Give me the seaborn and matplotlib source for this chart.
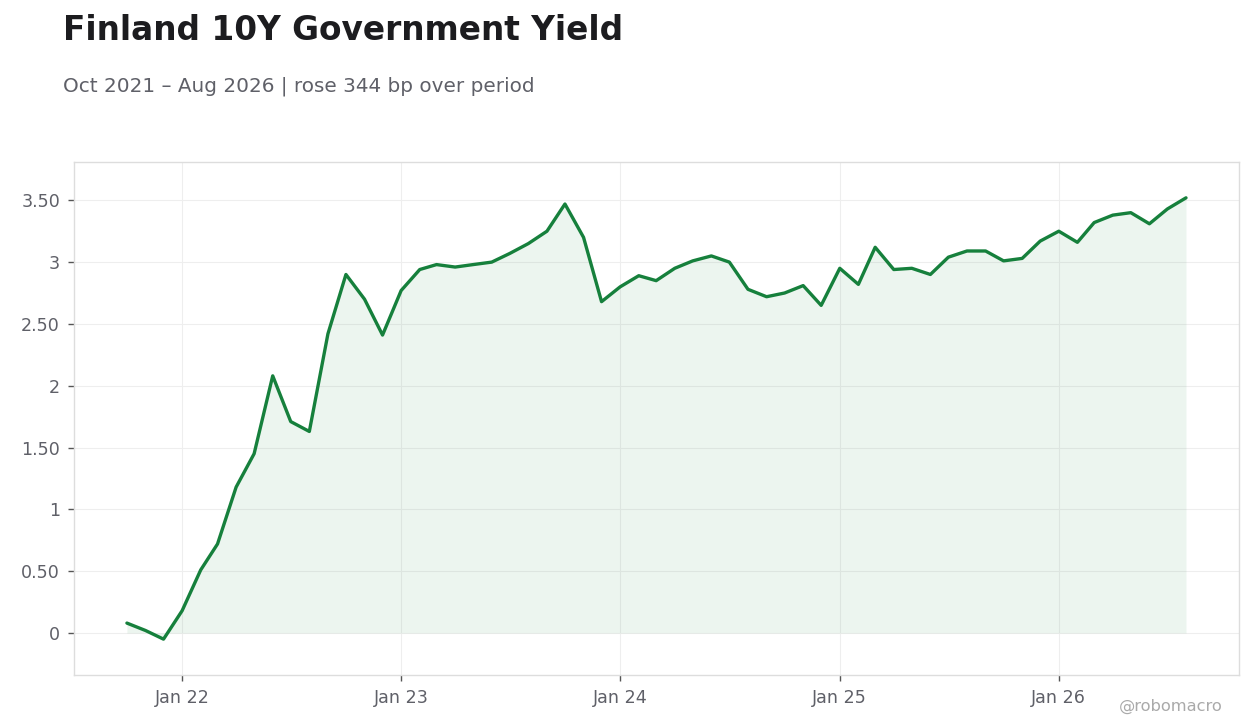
import matplotlib
matplotlib.use("Agg")
import matplotlib.pyplot as plt
import matplotlib.dates as mdates
from matplotlib.ticker import FuncFormatter, MultipleLocator
import pandas as pd
import seaborn as sns

# monthly Finland 10Y yield, Oct 2021 .. Aug 2026
months = pd.date_range("2021-10-01", periods=59, freq="MS")
yields = [
    0.08, 0.02, -0.05,
    0.18, 0.51, 0.72, 1.18, 1.45, 2.08, 1.71, 1.63, 2.42, 2.90, 2.70, 2.41,
    2.77, 2.94, 2.98, 2.96, 2.98, 3.00, 3.07, 3.15, 3.25, 3.47, 3.20, 2.68,
    2.80, 2.89, 2.85, 2.95, 3.01, 3.05, 3.00, 2.78, 2.72, 2.75, 2.81, 2.65,
    2.95, 2.82, 3.12, 2.94, 2.95, 2.90, 3.04, 3.09, 3.09, 3.01, 3.03, 3.17,
    3.25, 3.16, 3.32, 3.38, 3.40, 3.31, 3.43, 3.52,
]

title = "Finland 10Y Government Yield"
subtitle = "Oct 2021 \u2013 Aug 2026 | rose 344 bp over period"
line_color = "#16803c"

df = pd.DataFrame({"date": months, "yield": yields})

sns.set_style("white")
plt.rcParams["font.family"] = ["DejaVu Sans"]
fig = plt.figure(figsize=(12.6, 7.28), dpi=100)
ax = fig.add_axes([0.0587, 0.0728, 0.9246, 0.7047])

sns.lineplot(data=df, x="date", y="yield", color=line_color, linewidth=2.4, ax=ax)
ax.fill_between(df["date"], df["yield"], 0, color=line_color, alpha=0.08, linewidth=0)

ax.set_ylim(-0.34, 3.81)
ax.margins(x=0.05)
ax.yaxis.set_major_locator(MultipleLocator(0.5))
ax.yaxis.set_major_formatter(FuncFormatter(lambda v, _: f"{v:.0f}" if abs(v - round(v)) < 1e-9 else f"{v:.2f}"))
ax.xaxis.set_major_locator(mdates.YearLocator(month=1))
ax.xaxis.set_major_formatter(mdates.DateFormatter("%b %y"))

ax.set_xlabel("")
ax.set_ylabel("")
ax.grid(True, color="#eeeeee", linewidth=0.8)
for s in ax.spines.values():
    s.set_color("#dddddd")
    s.set_linewidth(1)
ax.tick_params(axis="both", colors="#555555", labelsize=12.6, length=4, width=1,
               labelcolor="#5f6068", direction="out", bottom=True, left=True, pad=6)

fig.text(0.05, 1 - 40 / 728, title, fontsize=23.6, fontweight="bold", color="#1c1c1f", va="baseline")
fig.text(0.05, 1 - 91 / 728, subtitle, fontsize=14.4, color="#5f6068", va="baseline")
fig.text(0.97, 1 - 711 / 728, "@robomacro", fontsize=11.7, color="#aaaaaa", ha="right", va="baseline")

fig.savefig("out.png", dpi=100, facecolor="white")
